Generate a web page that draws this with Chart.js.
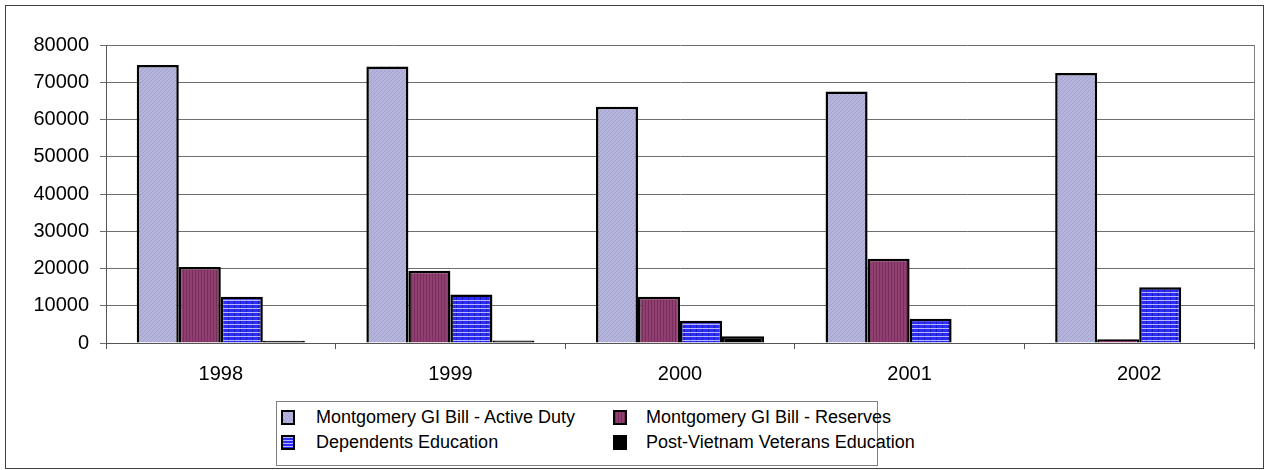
<!DOCTYPE html>
<html>
<head>
<meta charset="utf-8">
<script src="https://cdn.jsdelivr.net/npm/chart.js@4"></script>
<style>
  body { margin: 0; background: #fff; }
  #wrap { position: relative; width: 1267px; height: 470px; overflow: hidden; }
  #frame { position: absolute; left: 5px; top: 5px; width: 1257px; height: 462px; border: 1px solid #404040; }
  #chart1 { position: absolute; left: 0; top: 0; }
  #legend { position: absolute; left: 276px; top: 401px; width: 600px; height: 63px; border: 1px solid #808080; }
  .item { position: absolute; font-family: "Liberation Sans", Arial, sans-serif; font-size: 18px; line-height: 20px; color: #000; white-space: nowrap; }
  .mk { position: absolute; width: 10px; height: 11px; border: 2px solid #000; }
</style>
</head>
<body>
<div id="wrap">
  <div id="frame"></div>
  <canvas id="chart1" width="1267" height="395"></canvas>
  <div id="legend"></div>
</div>
<script>
const years = ["1998", "1999", "2000", "2001", "2002"];
const seriesNames = [
  "Montgomery GI Bill - Active Duty",
  "Montgomery GI Bill - Reserves",
  "Dependents Education",
  "Post-Vietnam Veterans Education"
];
const activeDuty = [74600, 74200, 63400, 67500, 72500];
const reserves = [20400, 19400, 12400, 22600, 1000];
const dependents = [12400, 13000, 6000, 6500, 15000];
const postVietnam = [600, 700, 1800, 0, 0];
const yTicks = [0, 10000, 20000, 30000, 40000, 50000, 60000, 70000, 80000];

// petits motifs de remplissage
function makePattern(w, h, draw) {
  const c = document.createElement("canvas");
  c.width = w; c.height = h;
  const g = c.getContext("2d");
  draw(g);
  return g.createPattern(c, "repeat");
}

const patActive = makePattern(4, 4, g => {
  g.fillStyle = "#b4b4dc"; g.fillRect(0, 0, 4, 4);
  g.fillStyle = "#a2a2ca";
  for (let i = 0; i < 4; i++) g.fillRect(i, 3 - i, 1, 1);
});
const patReserves = makePattern(3, 2, g => {
  g.fillStyle = "#904070"; g.fillRect(0, 0, 3, 2);
  g.fillStyle = "#7a2e5e"; g.fillRect(0, 0, 1, 2);
});
const patDependents = makePattern(6, 4, g => {
  g.fillStyle = "#2c2cff"; g.fillRect(0, 0, 6, 4);
  g.fillStyle = "#b4b4ff"; g.fillRect(0, 0, 6, 1);
  g.fillStyle = "#1c1cb8"; g.fillRect(0, 1, 1, 3);
});

const fills = [patActive, patReserves, patDependents, "#000000"];
const cssFills = [
  "repeating-linear-gradient(45deg, #b4b4dc 0 2px, #a2a2ca 2px 3px)",
  "repeating-linear-gradient(90deg, #7a2e5e 0 1px, #904070 1px 3px)",
  "repeating-linear-gradient(180deg, #b4b4ff 0 1px, #2c2cff 1px 3px)",
  "#000"
];
const allData = [activeDuty, reserves, dependents, postVietnam];

// bordure droite de la zone de tracé
const rightEdge = {
  id: "rightEdge",
  afterDraw(chart) {
    const a = chart.chartArea, c = chart.ctx;
    c.save();
    c.strokeStyle = "#808080";
    c.lineWidth = 1;
    c.beginPath();
    c.moveTo(Math.round(a.right) + 0.5, a.top);
    c.lineTo(Math.round(a.right) + 0.5, a.bottom);
    c.stroke();
    c.restore();
  }
};

const chart1 = new Chart(document.getElementById("chart1"), {
  type: "bar",
  data: {
    labels: years,
    datasets: seriesNames.map((name, i) => ({
      label: name,
      data: allData[i],
      backgroundColor: fills[i],
      borderColor: "#000",
      borderWidth: 2.5,
      barPercentage: 1,
      categoryPercentage: 0.732
    }))
  },
  options: {
    responsive: false,
    animation: false,
    layout: { padding: { left: 0, right: 13, top: 45, bottom: 0 } },
    plugins: {
      legend: { display: false },
      tooltip: { enabled: false }
    },
    scales: {
      x: {
        afterFit: s => { s.height = 52; },
        grid: { drawOnChartArea: false, drawTicks: true, tickLength: 6, color: "#555", offset: true },
        border: { color: "#555", width: 1 },
        ticks: { color: "#000", padding: 13, font: { family: "Liberation Sans, Arial", size: 20 } }
      },
      y: {
        min: 0,
        max: 80000,
        afterFit: s => { s.width = 106; },
        afterBuildTicks: s => { s.ticks = yTicks.map(v => ({ value: v })); },
        grid: { color: "#6e6e6e", tickLength: 6, lineWidth: 1 },
        border: { color: "#555", width: 1 },
        ticks: {
          color: "#000",
          padding: 11,
          font: { family: "Liberation Sans, Arial", size: 20 },
          callback: v => String(v)
        }
      }
    }
  },
  plugins: [rightEdge]
});

// légende en deux colonnes
const legend = document.getElementById("legend");
const pos = [[4, 39, 5], [336, 369, 5], [4, 39, 30], [336, 369, 30]];
seriesNames.forEach((name, i) => {
  const [mx, tx, ty] = pos[i];
  const mk = document.createElement("div");
  mk.className = "mk";
  mk.style.left = mx + "px";
  mk.style.top = (ty + 3) + "px";
  mk.style.background = cssFills[i];
  legend.appendChild(mk);
  const t = document.createElement("div");
  t.className = "item";
  t.style.left = tx + "px";
  t.style.top = ty + "px";
  t.textContent = name;
  legend.appendChild(t);
});
</script>
</body>
</html>
